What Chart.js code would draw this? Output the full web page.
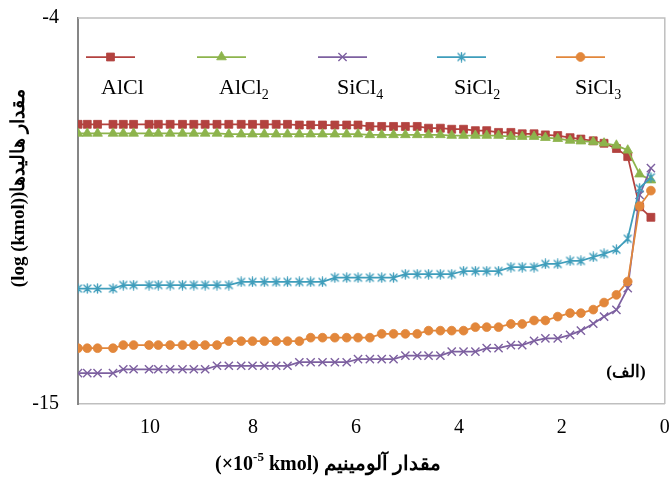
<!DOCTYPE html>
<html><head><meta charset="utf-8">
<script src="https://cdn.jsdelivr.net/npm/chart.js@4.4.1/dist/chart.umd.min.js"></script>
<style>html,body{margin:0;padding:0;background:#fff}#wrap{width:672px;height:481px}</style>
</head><body><div id="wrap"><canvas id="c" width="672" height="481"></canvas></div>
<script>
// ---- data ----
const seriesNames = ['AlCl', 'AlCl2', 'SiCl4', 'SiCl2', 'SiCl3'];
const aluminium = [11.40, 11.22, 11.02, 10.72, 10.52, 10.32, 10.02, 9.84, 9.61, 9.37,
  9.15, 8.93, 8.70, 8.47, 8.23, 8.01, 7.78, 7.55, 7.33, 7.10,
  6.88, 6.65, 6.41, 6.18, 5.96, 5.73, 5.50, 5.27, 5.04, 4.81,
  4.59, 4.36, 4.14, 3.91, 3.68, 3.46, 3.23, 2.99, 2.77, 2.54,
  2.32, 2.08, 1.84, 1.63, 1.39, 1.18, 0.94, 0.72, 0.49, 0.27];
const alcl = [-7.03, -7.03, -7.03, -7.03, -7.03, -7.03, -7.03, -7.03, -7.03, -7.03,
  -7.03, -7.03, -7.03, -7.03, -7.03, -7.03, -7.03, -7.03, -7.03, -7.05,
  -7.05, -7.05, -7.05, -7.05, -7.05, -7.09, -7.09, -7.09, -7.09, -7.09,
  -7.14, -7.14, -7.17, -7.17, -7.21, -7.21, -7.26, -7.26, -7.30, -7.30,
  -7.33, -7.35, -7.41, -7.45, -7.50, -7.57, -7.72, -7.95, -9.38, -9.68];
const alcl2 = [-7.29, -7.29, -7.29, -7.29, -7.29, -7.29, -7.29, -7.29, -7.29, -7.29,
  -7.29, -7.29, -7.29, -7.31, -7.31, -7.31, -7.31, -7.31, -7.31, -7.31,
  -7.31, -7.31, -7.31, -7.31, -7.31, -7.33, -7.33, -7.33, -7.33, -7.33,
  -7.33, -7.33, -7.35, -7.35, -7.35, -7.35, -7.35, -7.38, -7.38, -7.38,
  -7.41, -7.44, -7.49, -7.51, -7.53, -7.57, -7.63, -7.77, -8.45, -8.62];
const sicl4 = [-14.12, -14.12, -14.12, -14.12, -14.01, -14.01, -14.01, -14.01, -14.01, -14.01,
  -14.01, -14.01, -13.91, -13.91, -13.91, -13.91, -13.91, -13.91, -13.91, -13.81,
  -13.81, -13.81, -13.81, -13.81, -13.72, -13.72, -13.72, -13.72, -13.62, -13.62,
  -13.62, -13.62, -13.51, -13.51, -13.51, -13.41, -13.41, -13.32, -13.32, -13.20,
  -13.13, -13.13, -13.03, -12.91, -12.71, -12.51, -12.32, -11.70, -9.04, -8.28];
const sicl2 = [-11.71, -11.71, -11.71, -11.71, -11.61, -11.61, -11.61, -11.61, -11.61, -11.61,
  -11.61, -11.61, -11.61, -11.61, -11.52, -11.52, -11.52, -11.52, -11.52, -11.52,
  -11.52, -11.52, -11.40, -11.40, -11.40, -11.40, -11.40, -11.40, -11.30, -11.30,
  -11.30, -11.30, -11.30, -11.21, -11.21, -11.21, -11.21, -11.10, -11.10, -11.10,
  -11.01, -11.01, -10.92, -10.92, -10.81, -10.72, -10.60, -10.29, -8.85, -8.54];
const sicl3 = [-13.41, -13.41, -13.41, -13.41, -13.32, -13.32, -13.32, -13.32, -13.32, -13.32,
  -13.32, -13.32, -13.32, -13.21, -13.21, -13.21, -13.21, -13.21, -13.21, -13.21,
  -13.11, -13.11, -13.11, -13.11, -13.11, -13.11, -13.00, -13.00, -13.00, -13.00,
  -12.91, -12.91, -12.91, -12.91, -12.81, -12.81, -12.81, -12.72, -12.72, -12.62,
  -12.62, -12.51, -12.41, -12.41, -12.31, -12.11, -11.89, -11.51, -9.36, -8.92];
const xTicks = [0, 2, 4, 6, 8, 10];
const yTicks = [-15, -4];
const yTitle = '(log (kmol))مقدار هالیدها';
const xTitleParts = ['(×10', '-5', ' kmol) ', 'مقدار آلومینیم'];
const panelLabel = '(الف)';

// ---- styles ----
const colors = ['#B3423F', '#8DB44C', '#7D60A0', '#3E9DBB', '#E2873B'];
function asteriskMarker(color) {
  const c = document.createElement('canvas');
  c.width = 11; c.height = 11;
  const g = c.getContext('2d');
  g.strokeStyle = color; g.lineWidth = 1.4; g.lineCap = 'round';
  g.beginPath();
  g.moveTo(2, 2); g.lineTo(9, 9);
  g.moveTo(9, 2); g.lineTo(2, 9);
  g.moveTo(5.5, 1); g.lineTo(5.5, 10);
  g.stroke();
  return c;
}
const star = asteriskMarker(colors[3]);
const pointStyles = ['rect', 'triangle', 'crossRot', star, 'circle'];
const pointRadii = [5.6, 5.6, 5.8, 5.5, 4.4];
const seriesValues = [alcl, alcl2, sicl4, sicl2, sicl3];

const datasets = seriesValues.map((vals, i) => ({
  label: seriesNames[i],
  data: aluminium.map((x, k) => ({ x: x, y: vals[k] })),
  borderColor: colors[i],
  backgroundColor: colors[i],
  borderWidth: 1.75,
  pointStyle: pointStyles[i],
  pointRadius: pointRadii[i],
  pointBorderWidth: i === 2 ? 1.4 : 0.8,
  pointBorderColor: colors[i],
  pointBackgroundColor: colors[i],
  tension: 0,
  order: 5 - i
}));

const SERIF = '"Liberation Serif", "Times New Roman", serif';

const decor = {
  id: 'decor',
  beforeDatasetsDraw(chart) {
    const { ctx, chartArea: a } = chart;
    ctx.save();
    ctx.strokeStyle = '#BFBFBF'; ctx.lineWidth = 1.5;
    ctx.beginPath();
    ctx.moveTo(a.left, a.top); ctx.lineTo(a.right, a.top); ctx.lineTo(a.right, a.bottom);
    ctx.stroke();
    ctx.restore();
  },
  afterDraw(chart) {
    const ctx = chart.ctx;
    ctx.save();
    // legend
    const lineX = [86, 197, 318, 437, 556];
    const labX = [101, 219, 337, 454, 575];
    const ly = 57, ty = 94;
    chart.data.datasets.forEach((ds, i) => {
      ctx.strokeStyle = ds.borderColor; ctx.fillStyle = ds.borderColor; ctx.lineWidth = 1.75;
      ctx.beginPath(); ctx.moveTo(lineX[i], ly); ctx.lineTo(lineX[i] + 49, ly); ctx.stroke();
      ctx.lineWidth = ds.pointBorderWidth;
      Chart.helpers.drawPoint(ctx, {
        pointStyle: ds.pointStyle, radius: ds.pointRadius, rotation: 0,
        borderWidth: ds.pointBorderWidth
      }, lineX[i] + 24.5, ly);
      // label
      const m = ds.label.match(/^(.*?)(\d*)$/);
      ctx.fillStyle = '#000';
      ctx.font = '22px ' + SERIF;
      ctx.textAlign = 'left'; ctx.textBaseline = 'alphabetic';
      ctx.fillText(m[1], labX[i], ty);
      if (m[2]) {
        const w = ctx.measureText(m[1]).width;
        ctx.font = '14px ' + SERIF;
        ctx.fillText(m[2], labX[i] + w, ty + 5);
      }
    });
    // y title
    ctx.save();
    ctx.translate(19, 188);
    ctx.rotate(-Math.PI / 2);
    ctx.font = 'bold 19px ' + SERIF;
    ctx.textAlign = 'center'; ctx.textBaseline = 'middle'; ctx.fillStyle = '#000';
    ctx.fillText(yTitle, 0, 0);
    ctx.restore();
    // x title
    const big = 'bold 20px ' + SERIF, small = 'bold 13px ' + SERIF;
    const fonts = [big, small, big, big];
    const dy = [0, -7, 0, 0];
    let widths = xTitleParts.map((t, i) => { ctx.font = fonts[i]; return ctx.measureText(t).width; });
    let total = widths.reduce((s, w) => s + w, 0);
    let x = 328 - total / 2;
    ctx.textAlign = 'left'; ctx.textBaseline = 'middle'; ctx.fillStyle = '#000';
    xTitleParts.forEach((t, i) => { ctx.font = fonts[i]; ctx.fillText(t, x, 465 + dy[i]); x += widths[i]; });
    // panel label
    ctx.font = 'bold 17px ' + SERIF;
    ctx.textAlign = 'center';
    ctx.fillText(panelLabel, 626, 373);
    ctx.restore();
  }
};

new Chart(document.getElementById('c'), {
  type: 'line',
  data: { datasets: datasets },
  options: {
    responsive: false, animation: false, devicePixelRatio: 1,
    layout: { padding: { left: 0, right: 5, top: 18, bottom: 0 } },
    plugins: { legend: { display: false }, tooltip: { enabled: false } },
    scales: {
      x: {
        type: 'linear', reverse: true, min: 0, max: 11.4,
        afterBuildTicks: s => { s.ticks = xTicks.map(v => ({ value: v })); },
        afterFit: s => { s.height = 77; s.paddingLeft = 0; s.paddingRight = 0; },
        grid: { display: false, drawTicks: false },
        border: { display: true, color: '#BFBFBF', width: 1.5 },
        ticks: { font: { family: SERIF, size: 20 }, color: '#000', padding: 12, maxRotation: 0, autoSkip: false }
      },
      y: {
        type: 'linear', min: -15, max: -4,
        afterBuildTicks: s => { s.ticks = yTicks.map(v => ({ value: v })); },
        afterFit: s => { s.width = 78; s.paddingTop = 0; s.paddingBottom = 0; },
        grid: { display: false, drawTicks: false },
        border: { display: true, color: '#868686', width: 2 },
        ticks: { font: { family: SERIF, size: 20 }, color: '#000', padding: 19, autoSkip: false }
      }
    }
  },
  plugins: [decor]
});
</script></body></html>
